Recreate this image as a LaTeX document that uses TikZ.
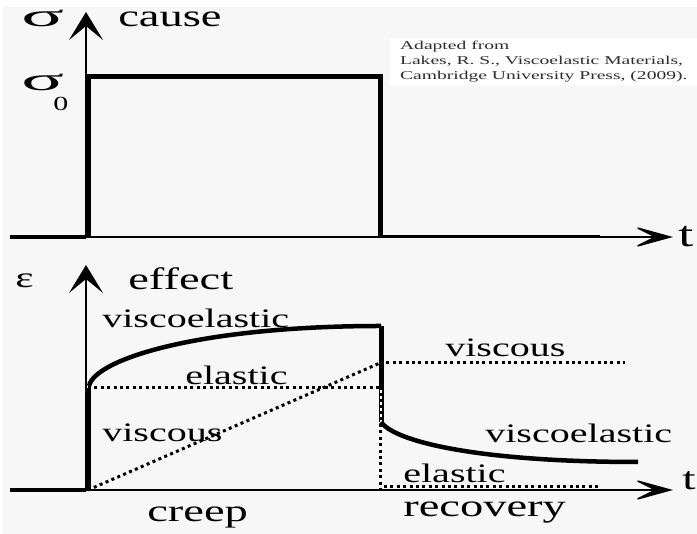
\documentclass[tikz,border=0pt]{standalone}
\usepackage{fontspec}
\setmainfont{Liberation Serif}
\usetikzlibrary{arrows.meta}
\definecolor{paper}{RGB}{247,247,247}
\definecolor{note}{RGB}{45,45,45}

\begin{document}
\begin{tikzpicture}[
  x=1pt, y=1pt,
  axis/.style={line width=1.4pt},
  yax/.style={axis, -{Stealth[length=28pt, width=34pt, inset=14pt]}},
  tax/.style={axis, -{Stealth[length=42pt, width=23pt, inset=23pt]}},
  load/.style={line width=5pt, line join=miter},
  curve/.style={line width=4.5pt},
  guide/.style={line width=3pt, dash pattern=on 3pt off 3.4pt},
  big/.style={font=\fontsize{31}{34}\selectfont, xscale=1.5, transform shape, inner sep=0pt, anchor=base west},
  lbl/.style={font=\fontsize{26.7}{30}\selectfont, xscale=1.5, transform shape, inner sep=0pt, anchor=base west},
  greek/.style={big, font=\fontsize{32}{36}\selectfont, xscale=1.65},
  cite/.style={font=\fontsize{12}{15}\selectfont, text=note, fill=white, align=left, xscale=1.63, transform shape, inner xsep=6pt, inner ysep=3pt, anchor=north west},
]
\useasboundingbox (0,0) rectangle (697,534);
\fill[paper] (3,0) rectangle (697,527);

% ---- top: stress (cause) ----
\coordinate (O1) at (86,297);
\coordinate (Y1) at (86,522);
\coordinate (T1) at (673,297);
\draw[tax] (O1) -- (T1);
\draw[yax] (O1) -- (Y1);
\draw[line width=3.5pt] (10,297) -- (O1);
\draw[load] (88,297) -- (88,457) -- (380,457) -- (380,297);
\draw[line width=3pt] (380,297) -- (600,297);

\node[greek] (sig) at (21,507) {σ};
\node[big] (cause) at (118,507) {cause};
\node[greek] (sig0) at (21,443) {σ};
\node[big, font=\fontsize{20}{22}\selectfont] (sub0) at (53,423) {0};
\node[big, font=\fontsize{36}{38}\selectfont] (t1) at (678,287) {t};
\node[cite] (src) at (390,496) {Adapted from\\Lakes, R. S., Viscoelastic Materials,\\Cambridge University Press, (2009).};

% ---- bottom: strain (effect) ----
\coordinate (O2) at (86,44);
\coordinate (Y2) at (86,269);
\coordinate (T2) at (673,44);
\coordinate (J0) at (88,44);
\coordinate (J1) at (88,146);
\coordinate (U0) at (381,208);
\coordinate (U1) at (381,144);
\coordinate (U2) at (381,112);
\coordinate (V1) at (380,171);
\coordinate (V2) at (625,171);
\coordinate (R1) at (638,72);
\draw[tax] (O2) -- (T2);
\draw[yax] (O2) -- (Y2);
\draw[line width=3.5pt] (10,44) -- (O2);

% strain curves
\draw[load] (J0) -- (J1);
\draw[curve] (89,148) .. controls (95,175) and (200,208) .. (U0);
\draw[load] (U0) -- (U2);
\draw[white, line width=2pt, dash pattern=on 3pt off 3pt] (U1) -- (U2);
\draw[curve] (U2) .. controls (395,92) and (480,72) .. (R1);

% elastic and viscous parts
\draw[guide] (J1) -- (380,146);
\draw[guide] (J0) -- (V1);
\draw[guide] (V1) -- (V2);
\draw[guide] (380,110) -- (380,44);
\draw[guide] (384,47) -- (600,47);

\node[big, font=\fontsize{29}{32}\selectfont] (eps) at (15,246) {ε};
\node[big] (effect) at (128,244) {effect};
\node[lbl] (ve1) at (102,206) {viscoelastic};
\node[lbl] (el1) at (185,149) {elastic};
\node[lbl] (vi1) at (102,92) {viscous};
\node[lbl] (vi2) at (445,177) {viscous};
\node[lbl] (ve2) at (485,91) {viscoelastic};
\node[lbl] (el2) at (403,51) {elastic};
\node[big, font=\fontsize{32}{34}\selectfont] (t2) at (682,44) {t};
\node[big] (creep) at (147,12) {creep};
\node[big] (recov) at (403,17) {recovery};

\end{tikzpicture}
\end{document}
